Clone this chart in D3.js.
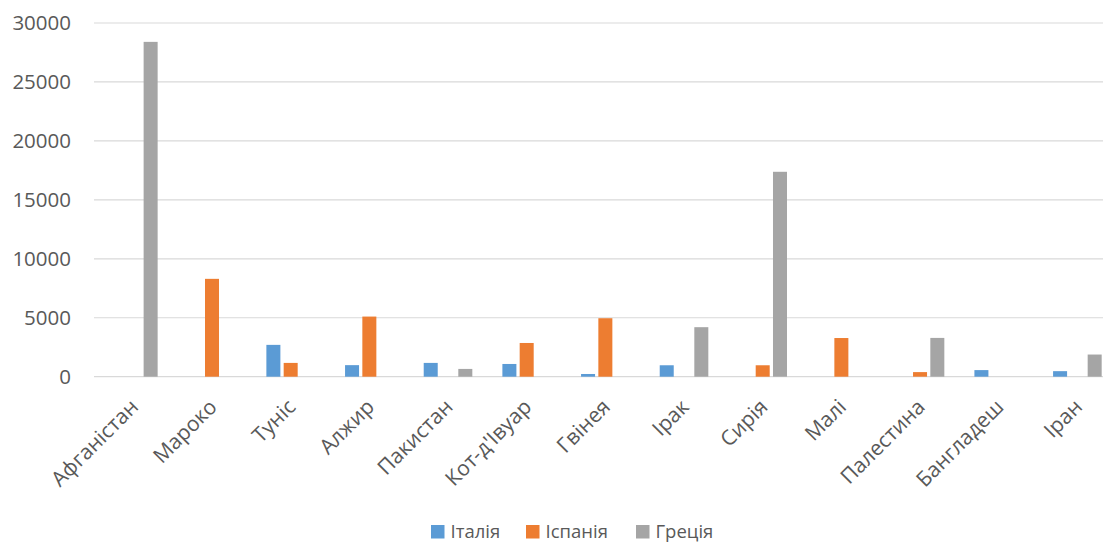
<!DOCTYPE html>
<html>
<head>
<meta charset="utf-8">
<script src="https://cdn.jsdelivr.net/npm/d3@7"></script>
<style>
  html, body { margin: 0; padding: 0; background: #fff; overflow: hidden; }
  svg { display: block; font-family: "Open Sans", "Noto Sans", sans-serif; }
</style>
</head>
<body>
<svg id="chart" width="1103" height="543"></svg>
<script>
const categories = ["Афганістан", "Мароко", "Туніс", "Алжир", "Пакистан", "Кот-д'Івуар", "Гвінея", "Ірак", "Сирія", "Малі", "Палестина", "Бангладеш", "Іран"];
const seriesNames = ["Італія", "Іспанія", "Греція"];
const italy  = [0, 0, 2700, 980, 1170, 1080, 230, 970, 0, 0, 0, 560, 470];
const spain  = [0, 8300, 1170, 5100, 0, 2860, 4960, 0, 970, 3280, 390, 0, 0];
const greece = [28400, 0, 0, 0, 660, 0, 0, 4200, 17380, 0, 3290, 0, 1880];
const yTicks = [0, 5000, 10000, 15000, 20000, 25000, 30000];
const colors = ["#5B9BD5", "#ED7D31", "#A5A5A5"];

const seriesValues = [italy, spain, greece];
const svg = d3.select("#chart");

const plotLeft = 94, catStep = 78.67;
const x0 = d3.scaleBand().domain(categories)
  .range([plotLeft, plotLeft + catStep * categories.length]).padding(0);
const x1 = d3.scaleBand().domain(seriesNames).range([-24.3, 24.3]).paddingInner(0.19).paddingOuter(0);
const y = d3.scaleLinear().domain([0, 30000]).range([376.7, 23]);

// gridlines
svg.append("g").selectAll("line").data(yTicks).join("line")
  .attr("x1", plotLeft).attr("x2", 1103)
  .attr("y1", d => y(d)).attr("y2", d => y(d))
  .attr("stroke", "#d9d9d9").attr("stroke-width", 1.2);

// y axis labels
const yAxis = d3.axisLeft(y).tickValues(yTicks).tickSize(0).tickPadding(0).tickFormat(d3.format("d"));
const gy = svg.append("g").attr("transform", "translate(71,0)").call(yAxis);
gy.select(".domain").remove();
gy.selectAll("text").attr("fill", "#595959").style("font-size", "20.5px")
  .style("font-family", "'Open Sans', sans-serif");

// bars
const data = [];
categories.forEach((c, i) => {
  seriesNames.forEach((s, j) => {
    const v = seriesValues[j][i];
    if (v > 0) data.push({ c, s, v, j });
  });
});
svg.append("g").selectAll("rect").data(data).join("rect")
  .attr("x", d => x0(d.c) + x0.bandwidth() / 2 + x1(d.s))
  .attr("width", x1.bandwidth())
  .attr("y", d => y(d.v))
  .attr("height", d => y(0) - y(d.v))
  .attr("fill", d => colors[d.j]);

// x axis labels
const gx = svg.append("g");
gx.selectAll("text").data(categories).join("text")
  .attr("transform", d => `translate(${x0(d) + x0.bandwidth() / 2 + 1},${403}) rotate(-45)`)
  .attr("text-anchor", "end")
  .attr("dy", "0.35em")
  .attr("fill", "#595959")
  .style("font-size", "21px")
  .text(d => d);

// legend
const legendItems = [
  { name: seriesNames[0], color: colors[0], x: 431 },
  { name: seriesNames[1], color: colors[1], x: 526 },
  { name: seriesNames[2], color: colors[2], x: 636 }
];
const lg = svg.append("g");
const li = lg.selectAll("g").data(legendItems).join("g")
  .attr("transform", d => `translate(${d.x},525)`);
li.append("rect").attr("width", 13.5).attr("height", 13.5).attr("fill", d => d.color);
li.append("text").attr("x", 19.5).attr("y", 13)
  .attr("fill", "#595959").style("font-size", "18.5px").text(d => d.name);
</script>
</body>
</html>
